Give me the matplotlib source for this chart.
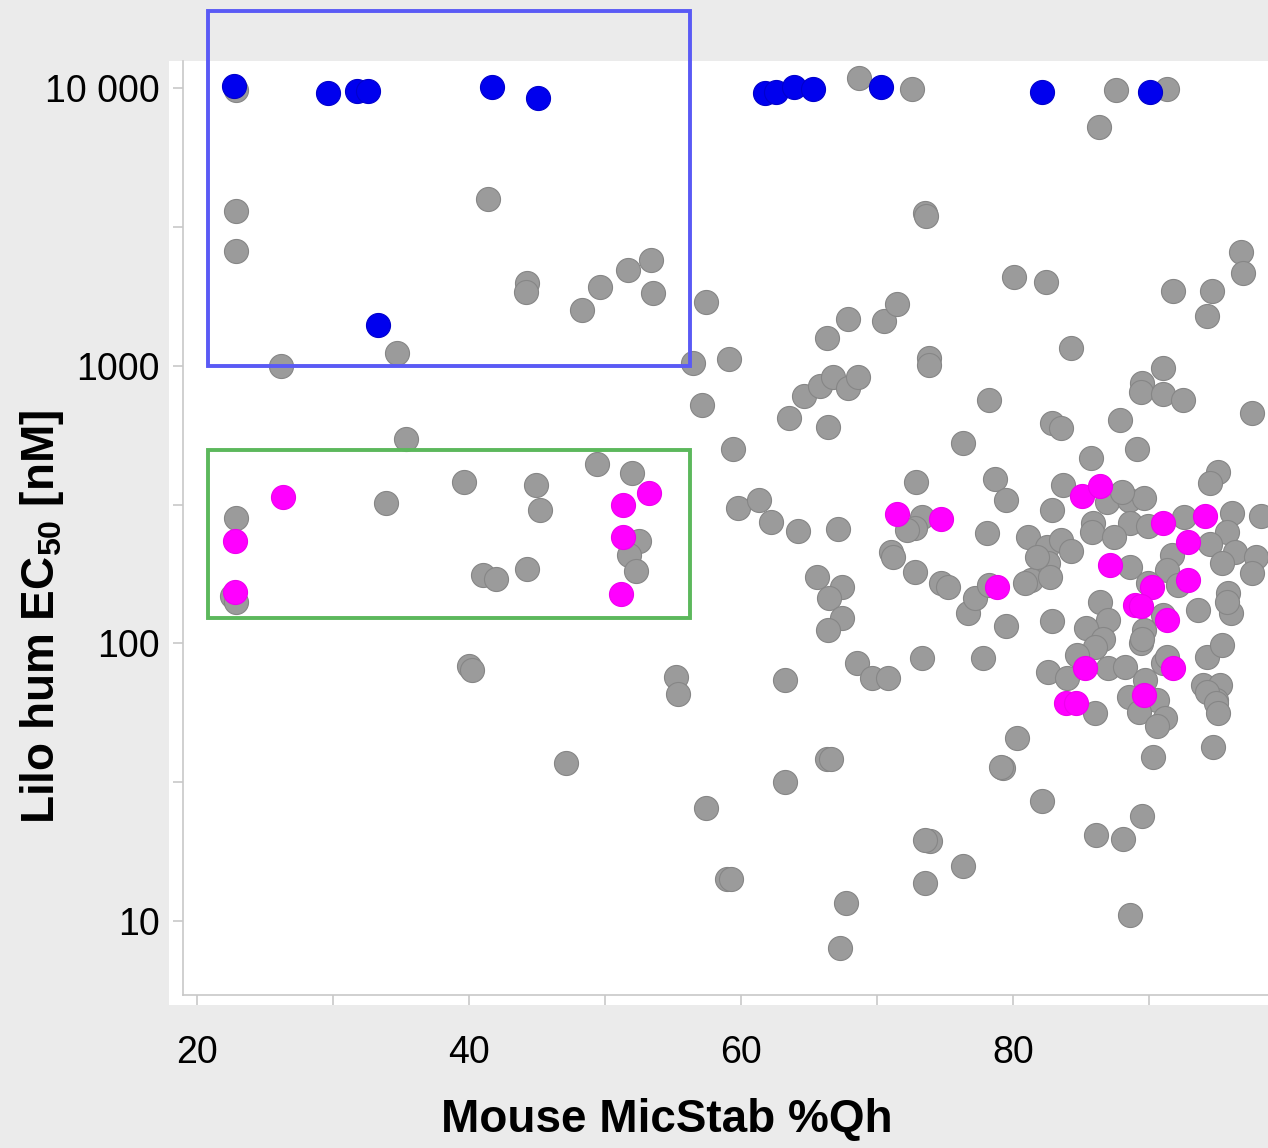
import matplotlib
matplotlib.use("Agg")
import matplotlib.pyplot as plt
from matplotlib.patches import Rectangle
from matplotlib import font_manager

# ---------------- data ----------------
# Gray compounds: Mouse MicStab %Qh and Lilo hum EC50 [nM]
gray_qh = [22.9, 68.7, 72.6, 87.6, 91.3, 86.3,
           22.9, 22.9, 34.7, 26.2, 41.4, 44.3, 44.2, 48.3, 49.6, 51.7, 53.4, 53.5, 57.4, 56.5, 59.1, 57.1,
           66.3, 67.9, 70.5, 71.5, 64.6, 65.8, 66.8, 67.9, 68.6, 63.5, 66.4,
           59.4, 44.9, 45.2, 44.3, 49.4, 52.0, 52.5, 51.8, 52.3,
           59.8, 61.3, 62.2, 64.2, 67.1,
           71.0, 71.2, 65.6, 67.4, 66.5, 67.4, 66.4, 68.5, 69.6, 70.8, 63.2, 55.2, 55.4,
           35.4, 22.9, 22.6, 22.9, 33.9, 39.6, 41.0, 42.0,
           40.0, 40.2, 47.1, 57.4, 59.0, 59.3, 63.2, 66.3, 66.6, 67.7, 67.3,
           73.5, 73.6, 80.1, 82.4, 91.8, 94.6, 94.3, 96.8, 96.9, 84.3, 73.8, 73.8, 78.2, 91.0, 89.5, 89.4,
           91.0, 92.5, 97.6,
           82.9, 83.5, 87.9, 89.1, 76.3, 85.7, 72.9, 78.7, 79.5, 83.7, 95.1, 94.5, 82.9, 86.9, 88.5, 89.6,
           88.0, 85.9, 85.8, 88.6, 89.9, 87.4, 92.6, 96.1, 98.2, 95.7, 94.5, 96.3, 95.4, 97.9, 97.6, 91.7,
           91.3, 92.1, 93.6, 95.8, 96.0, 95.7, 88.6, 89.9, 91.0,
           73.3, 72.8, 72.2, 78.1, 81.1, 72.8, 74.7, 75.2, 76.7, 77.2, 78.2, 79.5, 73.3, 77.8,
           82.5, 83.5, 82.6, 81.3, 82.7, 81.8, 84.3, 80.9,
           82.9, 86.4, 87.0, 85.4, 86.6, 86.0, 84.7, 82.6, 84.0, 87.0, 88.2, 89.6, 89.4, 89.5, 91.0, 91.3,
           89.7, 94.3, 95.4, 94.0, 95.2, 94.9,
           86.0, 88.5, 90.6, 89.3, 91.2, 90.6, 94.3, 94.9, 95.1, 94.7, 90.3, 80.3, 79.3, 79.1, 82.1, 89.5,
           86.1, 88.1, 73.9, 73.5, 76.3, 73.5, 88.6]
gray_ec50 = [9830, 10860, 9920, 9830, 9920, 7240,
             3600, 2590, 1110, 1000, 3980, 1990, 1840, 1590, 1920, 2210, 2400, 1830, 1700, 1020, 1060, 721,
             1260, 1470, 1450, 1670, 778, 845, 910, 832, 910, 649, 601,
             501, 372, 302, 185, 443, 411, 234, 208, 182,
             307, 328, 274, 254, 258,
             213, 205, 173, 160, 146, 123, 112, 85, 75, 75, 74, 76, 66,
             545, 283, 148, 141, 320, 381, 176, 171,
             83, 80, 37, 25.5, 14.2, 14.2, 31.7, 38.4, 38.4, 11.6, 8.0,
             3560, 3450, 2080, 2000, 1860, 1860, 1510, 2570, 2160, 1160, 1070, 1006, 752, 982, 866, 803,
             791, 752, 676,
             622, 597, 637, 501, 527, 466, 381, 391, 328, 372, 414, 379, 302, 323, 328, 334,
             351, 272, 252, 272, 265, 242, 285, 295, 288, 252, 228, 213, 195, 205, 180, 208,
             184, 162, 132, 152, 129, 141, 188, 165, 127,
             285, 261, 257, 250, 242, 181, 165, 160, 129, 146, 162, 116, 88.5, 88.5,
             222, 236, 195, 169, 173, 205, 216, 165,
             120, 141, 121, 114, 104, 97, 91, 79, 75, 81.5, 82, 112, 100, 104, 85, 89,
             74, 89, 98.6, 71, 71, 62.5,
             56, 64, 62.5, 56.5, 54, 50.4, 67, 61, 56, 42.4, 39, 45.6, 35.6, 36, 27.1, 23.9,
             20.4, 19.7, 19.4, 19.6, 15.8, 13.7, 10.5]

# Magenta compounds
mag_qh = [26.3, 22.8, 22.8, 53.2, 51.3, 51.3, 51.2, 71.5, 74.7, 78.8, 85.1, 86.4, 91.0, 94.1,
          92.9, 92.9, 87.1, 90.2, 89.0, 89.4, 91.3, 85.3, 91.8, 83.9, 84.6, 89.6]
mag_ec50 = [337, 234, 153, 348, 315, 242, 151, 293, 281, 160, 340, 369, 272, 288,
            232, 169, 192, 160, 137, 136, 121, 81.5, 81.5, 61, 61, 65]

# Blue compounds
blue_qh = [22.7, 29.6, 31.8, 32.6, 41.7, 45.1, 61.8, 62.6, 63.9, 65.3, 70.3, 82.1, 90.1, 33.3]
blue_ec50 = [10170, 9600, 9750, 9750, 10080, 9200, 9600, 9670, 10080, 9920, 10080, 9670, 9670, 1400]

# highlight boxes (x range, EC50 range)
box_qh = [20.8, 56.25]
blue_box_ec50 = [1000, 18900]
green_box_ec50 = [123, 498]

x_ticks = [20, 30, 40, 50, 60, 70, 80, 90]
x_ticklabels = ["20", "", "40", "", "60", "", "80", ""]
y_ticks = [10, 31.62, 100, 316.2, 1000, 3162, 10000]
y_ticklabels = ["10", "", "100", "", "1000", "", "10 000"]

# ---------------- style ----------------
fonts = font_manager.fontManager.ttflist
names = {f.name for f in fonts}
cond_noto = any(f.name == "Noto Sans" and "condensed" in str(f.stretch) for f in fonts)
if "Liberation Sans Narrow" in names:
    base = "Liberation Sans Narrow"
    plt.rcParams["font.family"] = [base, "DejaVu Sans"]
elif cond_noto:
    base = "Noto Sans"
    plt.rcParams["font.family"] = [base, "DejaVu Sans"]
    plt.rcParams["font.stretch"] = "condensed"
else:
    base = "Liberation Sans"
    plt.rcParams["font.family"] = [base, "DejaVu Sans"]
plt.rcParams["mathtext.fontset"] = "custom"
plt.rcParams["mathtext.rm"] = base
plt.rcParams["mathtext.bf"] = base + ":bold"

W, H = 1268, 1148
fig = plt.figure(figsize=(W / 100, H / 100), dpi=100, facecolor="#ebebeb")

# white plotting panel (slightly larger than axes)
fig.patches.append(Rectangle((169 / W, 1 - 1005 / H), (W - 169) / W, (1005 - 61) / H,
                             transform=fig.transFigure, facecolor="white",
                             edgecolor="none", zorder=-5))

ax = fig.add_axes([183 / W, 1 - 995 / H, (W - 183) / W, (995 - 61) / H])
ax.set_facecolor("none")
ax.set_yscale("log")
ax.set_xlim(18.97, 98.75)
ax.set_ylim(5.42, 12507)

for s in ["top", "right"]:
    ax.spines[s].set_visible(False)
for s in ["left", "bottom"]:
    ax.spines[s].set_color("#c8c8c8")
    ax.spines[s].set_linewidth(1.2)

ax.set_xticks(x_ticks)
ax.set_xticklabels(x_ticklabels)
ax.set_yticks(y_ticks)
ax.set_yticklabels(y_ticklabels)
ax.yaxis.set_minor_locator(matplotlib.ticker.NullLocator())
ax.tick_params(axis="both", which="major", direction="out", length=7, width=1.2,
               color="#c8c8c8", labelsize=27, labelcolor="black")
ax.tick_params(axis="x", pad=22)
ax.tick_params(axis="y", pad=10)

ms = 300
ax.scatter(gray_qh, gray_ec50, s=ms, c="#9b9b9b", edgecolors="#868686", linewidths=0.8, zorder=3)
ax.scatter(mag_qh, mag_ec50, s=ms, c="#ff00ff", edgecolors="#ee00ee", linewidths=0.8, zorder=4)
ax.scatter(blue_qh, blue_ec50, s=ms, c="#0000ee", edgecolors="#0000cc", linewidths=0.8, zorder=5)

ax.add_patch(Rectangle((box_qh[0], blue_box_ec50[0]), box_qh[1] - box_qh[0],
                       blue_box_ec50[1] - blue_box_ec50[0], fill=False,
                       edgecolor="#5a5af5", linewidth=2.8, clip_on=False, zorder=6))
ax.add_patch(Rectangle((box_qh[0], green_box_ec50[0]), box_qh[1] - box_qh[0],
                       green_box_ec50[1] - green_box_ec50[0], fill=False,
                       edgecolor="#5cb85c", linewidth=2.8, clip_on=False, zorder=6))

fig.text(667 / W, 1 - 1120 / H, "Mouse MicStab %Qh", ha="center", va="center",
         fontsize=33, fontweight="bold")
fig.text(42 / W, 1 - 617 / H, r"Lilo hum EC$_{\mathbf{50}}$ [nM]", ha="center", va="center",
         rotation=90, fontsize=33, fontweight="bold")

fig.savefig("out.png", dpi=100, facecolor=fig.get_facecolor())
